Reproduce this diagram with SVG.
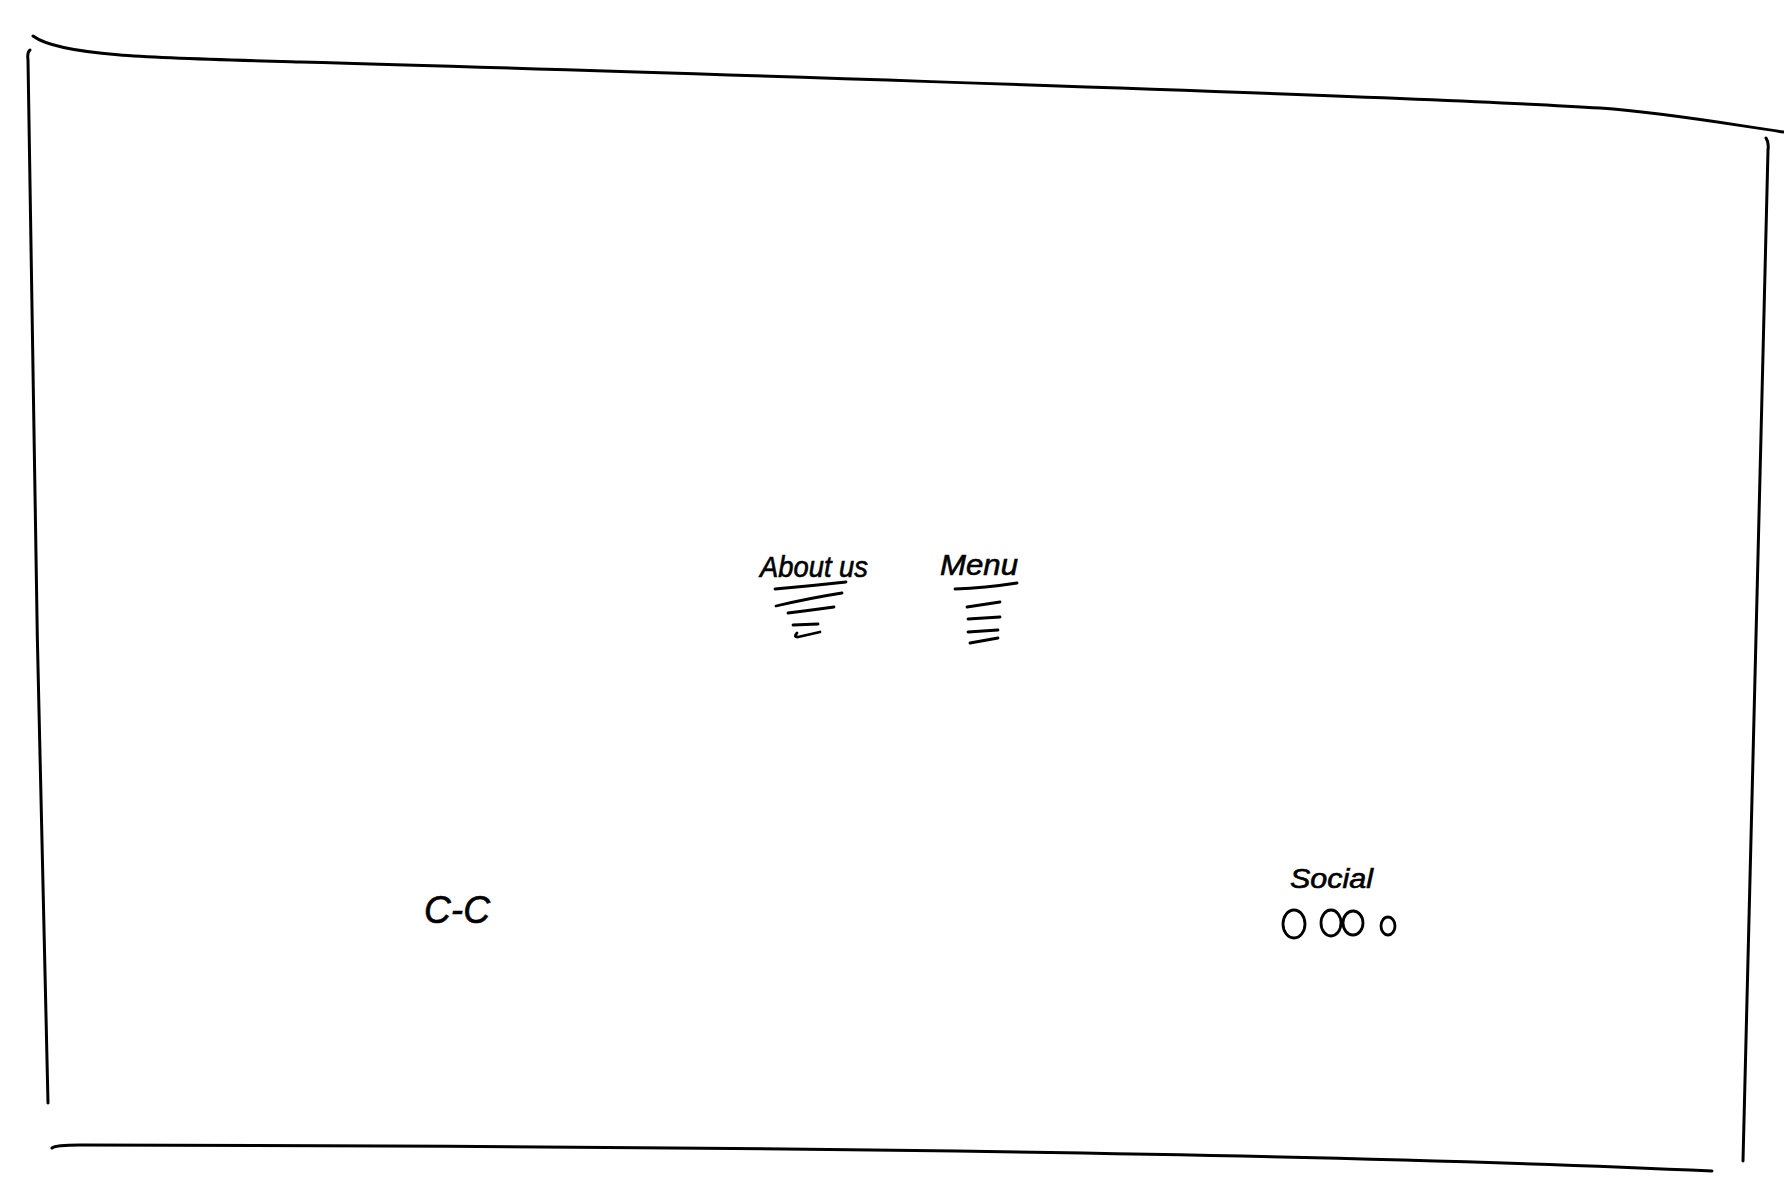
<svg xmlns="http://www.w3.org/2000/svg" width="1784" height="1202" viewBox="0 0 1784 1202">
<style>
.frame{fill:none;stroke:#000;stroke-width:3;stroke-linecap:round;stroke-linejoin:round}
.pen{fill:none;stroke:#000;stroke-width:2.8;stroke-linecap:round;stroke-linejoin:round}
.hand{font-family:"Liberation Sans",Arial,sans-serif;font-style:italic;fill:#000;stroke:#000;stroke-width:0.6}
</style>
<rect width="1784" height="1202" fill="#fff"/>
<g id="frame">
<path class="frame" d="M33 36 C60 56 150 58 300 62 S1400 95 1600 108 C1670 113 1740 126 1784 132"/>
<path class="frame" d="M30 50 Q27 52 28 60 C30 300 40 800 48 1103"/>
<path class="frame" d="M1766 138 Q1769 142 1768 150 C1760 500 1748 900 1743 1161"/>
<path class="frame" d="M52 1148 Q56 1145 80 1145 C700 1146 1300 1152 1712 1171"/>
</g>
<g id="about">
<text class="hand" x="760" y="577" font-size="29" textLength="108" lengthAdjust="spacingAndGlyphs">About us</text>
<path class="pen" d="M775 589 Q810 586 846 582"/>
<path class="pen" d="M776 606 Q810 598 842 593"/>
<path class="pen" d="M788 613 Q812 610 834 607"/>
<path class="pen" d="M793 625 L818 624"/>
<path class="pen" d="M797 633 Q793 637 798 637 L820 632"/>
</g>
<g id="menu">
<text class="hand" x="940" y="575" font-size="30" textLength="78" lengthAdjust="spacingAndGlyphs">Menu</text>
<path class="pen" d="M955 589 Q985 588 1017 583"/>
<path class="pen" d="M967 607 L1000 602"/>
<path class="pen" d="M968 619 L1000 617"/>
<path class="pen" d="M968 632 L998 630"/>
<path class="pen" d="M970 643 L998 638"/>
</g>
<g id="cc">
<text class="hand" x="424" y="923" font-size="38" textLength="66" lengthAdjust="spacingAndGlyphs">C-C</text>
</g>
<g id="social">
<text class="hand" x="1290" y="888" font-size="27" textLength="83" lengthAdjust="spacingAndGlyphs">Social</text>
<ellipse class="pen" cx="1294" cy="924" rx="11" ry="14"/>
<ellipse class="pen" cx="1331" cy="923" rx="10" ry="13"/>
<ellipse class="pen" cx="1353" cy="923" rx="10" ry="12"/>
<ellipse class="pen" cx="1388" cy="926" rx="7" ry="9"/>
</g>
</svg>
